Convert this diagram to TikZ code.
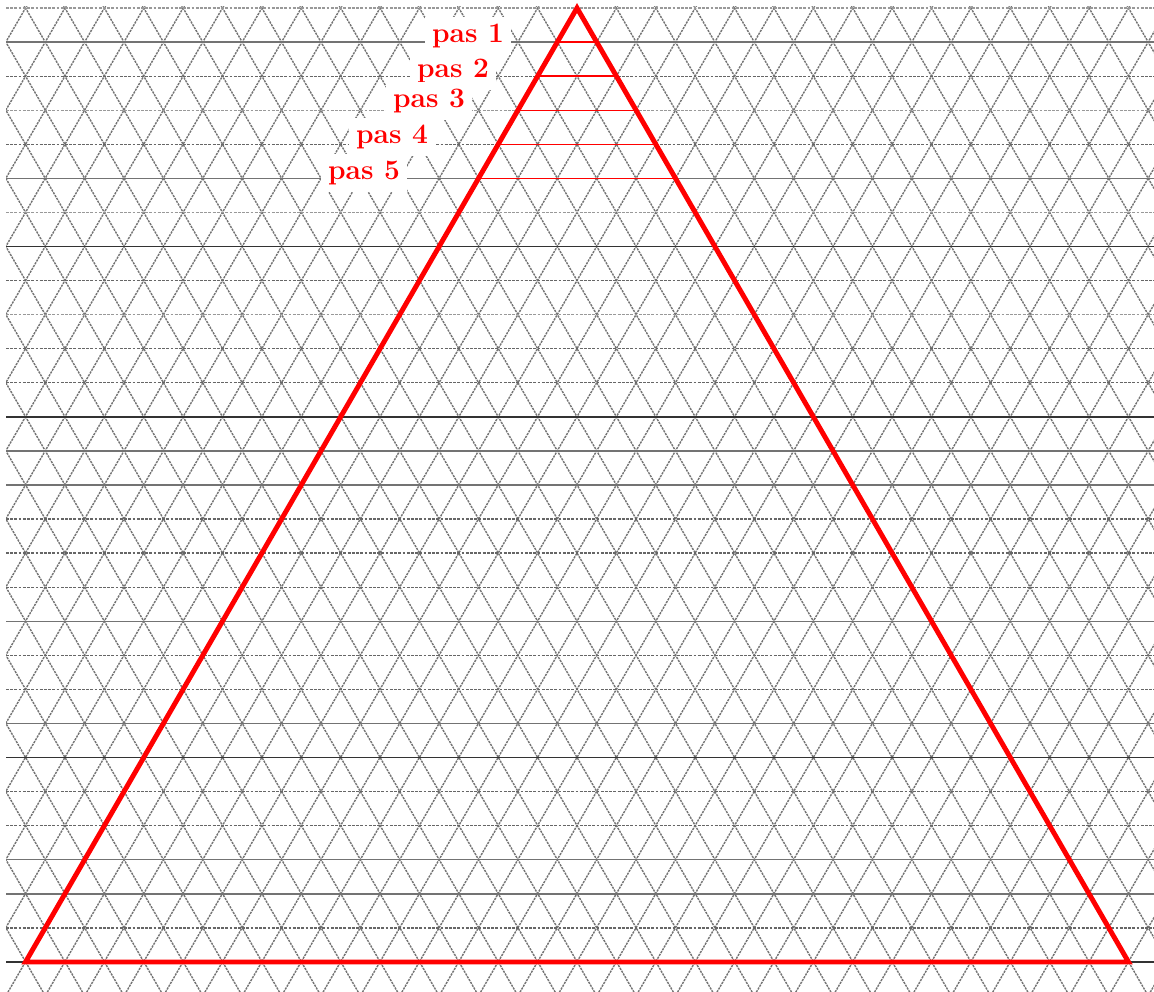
\documentclass[tikz,border=0pt]{standalone}
\begin{document}
\begin{tikzpicture}[x=0.025cm,y=-0.025cm,
  diag/.style={black!55,line width=1pt,dash pattern=on 1.6pt off 0.7pt},
  hdash/.style={black!60,line width=0.9pt,dash pattern=on 2pt off 1pt},
  hlight/.style={black!40,line width=1pt,dash pattern=on 2pt off 1pt},
  hsolid/.style={black!55,line width=1pt},
  hmajor/.style={black!80,line width=1.1pt},
  tri/.style={red,line width=3.5pt,line join=miter},
  pasline/.style={red,line width=1pt},
  paslabel/.style={fill=white,text=red,inner sep=5pt,font=\fontsize{20}{23}\selectfont\bfseries}]
\useasboundingbox (0,0) rectangle (1154,991);
\fill[white] (0,0) rectangle (1154,991);
\begin{scope}
\clip (6,7) rectangle (1154,991);
\foreach \m in {-30,...,30} {
  \draw[diag] (577+\m*39.39-19.7,8-34.07) -- ++(31*19.7,31*34.07);
  \draw[diag] (577+\m*39.39+19.7,8-34.07) -- ++(-31*19.7,31*34.07);
}
\foreach \k/\s in {0/hlight,1/hsolid,2/hdash,3/hlight,4/hdash,5/hsolid,6/hlight,7/hmajor,8/hdash,9/hlight,10/hdash,11/hdash,12/hmajor,13/hsolid,14/hsolid,15/hdash,16/hdash,17/hdash,18/hsolid,19/hdash,20/hdash,21/hsolid,22/hmajor,23/hdash,24/hdash,25/hsolid,26/hsolid,27/hdash,28/hmajor}
  \draw[\s] (6,8+\k*34.07) -- (1154,8+\k*34.07);
\end{scope}
\coordinate (apex) at (577,8);
\coordinate (bl) at (25.5,962);
\coordinate (br) at (1128.5,962);
\foreach \k in {1,...,5} {
  \coordinate (l\k) at (577-\k*19.7,8+\k*34.07);
  \coordinate (r\k) at (577+\k*19.7,8+\k*34.07);
  \draw[pasline] (l\k) -- (r\k);
}
\draw[tri] (apex) -- (bl) -- (br) -- cycle;
\node[paslabel] (pas1) at (468,36) {pas 1};
\node[paslabel] (pas2) at (453,71) {pas 2};
\node[paslabel] (pas3) at (429,101) {pas 3};
\node[paslabel] (pas4) at (392,137) {pas 4};
\node[paslabel] (pas5) at (364,173) {pas 5};
\end{tikzpicture}
\end{document}
